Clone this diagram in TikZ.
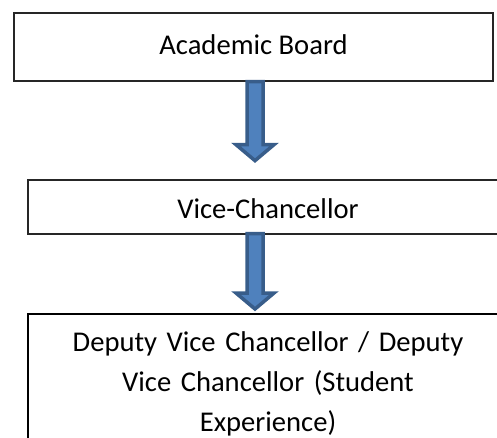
\documentclass[tikz,border=0pt]{standalone}
\usepackage{fontspec}
\setmainfont{Carlito}
\usetikzlibrary{calc}
\definecolor{arrowfill}{HTML}{4F81BD}
\definecolor{arrowline}{HTML}{385D8A}
\begin{document}
\begin{tikzpicture}[x=1pt,y=1pt,
  box/.style={draw=black!85,line width=1.3pt,fill=white,inner sep=0pt,
    font=\fontsize{28.6}{40}\selectfont},
  bigarrow/.style={draw=arrowline,fill=arrowfill,line width=3.5pt,line join=miter}]
\useasboundingbox (0,0) rectangle (497,-437);
\clip (0,0) rectangle (497,-437);
\node[box,minimum width=479pt,minimum height=68pt] (b1) at (253.5,-47) {};
\node[font=\fontsize{28.6}{40}\selectfont] at ($(b1.center)+(0,2)$) {Academic Board};
\node[box,minimum width=480pt,minimum height=54pt] (b2) at (268,-207) {};
\node[font=\fontsize{28.6}{40}\selectfont] at ($(b2.center)+(0,-2)$) {Vice-Chancellor};
\node[box,draw=black,line width=1.5pt,anchor=north,minimum width=480pt,
  align=center,text width=440pt,inner ysep=0pt] (b3) at (268,-313)
  {\rule{0pt}{38pt}Deputy Vice Chancellor / Deputy\\Vice Chancellor (Student\\Experience)\rule[-60pt]{0pt}{1pt}};
% arrow 1
\coordinate (a1) at ($(b1.south)+(1.5,0)$);
\coordinate (a1e) at ($(a1)+(0,-79)$);
\draw[bigarrow] ($(a1)+(-8,0)$) -- ($(a1)+(8,0)$) -- ($(a1)+(8,-63)$) -- ($(a1)+(19,-63)$)
  -- (a1e) -- ($(a1)+(-19,-63)$) -- ($(a1)+(-8,-63)$) -- cycle;
% arrow 2
\coordinate (a2) at ($(b2.south)+(-13,1)$);
\coordinate (a2e) at ($(b3.north)+(-13,4)$);
\draw[bigarrow] ($(a2)+(-8,0)$) -- ($(a2)+(8,0)$) -- ($(a2e)+(8,16)$) -- ($(a2e)+(19,16)$)
  -- (a2e) -- ($(a2e)+(-19,16)$) -- ($(a2e)+(-8,16)$) -- cycle;
\end{tikzpicture}
\end{document}
